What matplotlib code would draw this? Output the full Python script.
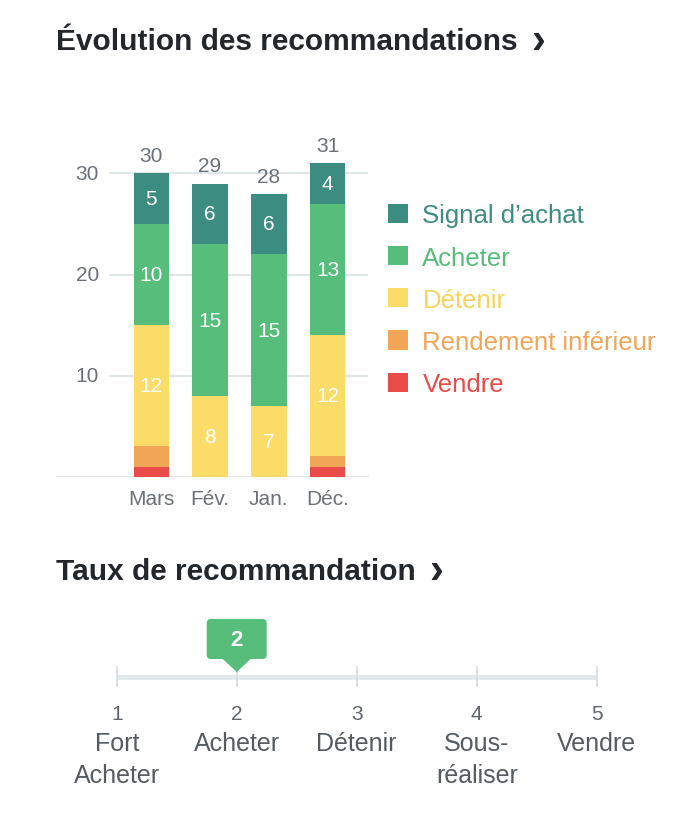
import matplotlib.pyplot as plt
import numpy as np
from matplotlib.patches import FancyBboxPatch, Polygon

plt.rcParams['font.family'] = ['Liberation Sans', 'DejaVu Sans']

# data
months = ['Mars', 'Fév.', 'Jan.', 'Déc.']
categories = ['Vendre', 'Rendement inférieur', 'Détenir', 'Acheter', 'Signal d\u2019achat']
vendre = [1, 0, 0, 1]
rendement = [2, 0, 0, 1]
detenir = [12, 8, 7, 12]
acheter = [10, 15, 15, 13]
signal = [5, 6, 6, 4]
yticks = [10, 20, 30]

scale_values = [1, 2, 3, 4, 5]
scale_labels = ['Fort\nAcheter', 'Acheter', 'Détenir', 'Sous-\nréaliser', 'Vendre']
current_rating = 2

colors = ['#e94c48', '#f2a557', '#fbdc68', '#57bd7b', '#3d8c82']
text_colors = ['#e94c48', '#f2a557', '#f6d45c', '#57bd7b', '#3d8c82']
gray = '#6b7177'
dark = '#23272b'

W, H = 688, 820
fig = plt.figure(figsize=(W / 100, H / 100), dpi=100)

# ---------------------------------------------------------------- stacked bars
ax_left, ax_right = 56, 370
ax_bottom, ax_top = 477.7, 134
ax = fig.add_axes([ax_left / W, 1 - ax_bottom / H, (ax_right - ax_left) / W, (ax_bottom - ax_top) / H])
ax.set_xlim(-1.62, 3.72)
ax.set_ylim(0, 34)

x = np.arange(len(months))
series = [vendre, rendement, detenir, acheter, signal]
bottom = np.zeros(len(months))
containers = []
for vals, c, name in zip(series, colors, categories):
    vals = np.array(vals)
    bc = ax.bar(x, vals, 0.604, bottom=bottom, color=c, label=name, linewidth=0, zorder=3)
    containers.append(bc)
    for xi, v, b in zip(x, vals, bottom):
        if v >= 3:
            ax.text(xi, b + v / 2, str(v), ha='center', va='center', color='white', fontsize=15, zorder=4)
    bottom = bottom + vals

for xi, t in zip(x, bottom):
    ax.text(xi, t + 1.74, f'{t:.0f}', ha='center', va='center', color=gray, fontsize=15)

# grid + y labels
for yv in yticks:
    ax.axhline(yv, xmin=(110 - ax_left) / (ax_right - ax_left), xmax=0.99, color='#e1e6e8', lw=1.5, zorder=1)
    ax.text((99 - ax_left) / (ax_right - ax_left), yv, str(yv), transform=ax.get_yaxis_transform(),
            ha='right', va='center', color=gray, fontsize=15)
ax.axhline(0, xmin=0, xmax=0.99, color='#dce2e5', lw=2, zorder=2)

ax.set_xticks(x)
ax.set_xticklabels(months, fontsize=15, color=gray)
ax.tick_params(axis='x', length=0, pad=8.5)
ax.set_yticks([])
for s in ax.spines.values():
    s.set_visible(False)

# legend
handles = containers[::-1]
leg = fig.legend(handles, categories[::-1], loc='upper left', bbox_to_anchor=(378 / W, 1 - 194 / H),
                 frameon=False, fontsize=18.5, handlelength=0.78, handleheight=0.78,
                 handletextpad=0.55, labelspacing=0.71, borderaxespad=0)
for t, c in zip(leg.get_texts(), text_colors[::-1]):
    t.set_color(c)

# titles
fig.text(56 / W, 1 - 42 / H, 'Évolution des recommandations', fontsize=21.5, fontweight='bold',
         color=dark, ha='left', va='center')
fig.text(538 / W, 1 - 42 / H, '\u203a', fontsize=30, fontweight='bold', color=dark,
         ha='center', va='center')
fig.text(56 / W, 1 - 572 / H, 'Taux de recommandation', fontsize=21.5, fontweight='bold',
         color=dark, ha='left', va='center')
fig.text(436 / W, 1 - 572 / H, '\u203a', fontsize=30, fontweight='bold', color=dark,
         ha='center', va='center')

# ---------------------------------------------------------------- rating scale
ax2 = fig.add_axes([0, 0, 1, 220 / H])
ax2.set_xlim(1 - 116.7 / 120, 1 + (W - 116.7) / 120)
ax2.set_ylim(820, 600)
ax2.axis('off')

ax2.plot([scale_values[0], scale_values[-1]], [677.7, 677.7], color='#e3e8ea', lw=3.6, solid_capstyle='butt', zorder=1)
for v, lab in zip(scale_values, scale_labels):
    ax2.plot([v, v], [668, 687], color='#d8dde0', lw=1.3, zorder=2)
    ax2.text(v, 715, str(v), ha='center', va='center', color='#5f656b', fontsize=15)
    ax2.text(v, 732.5, lab, ha='center', va='top', color='#555b61', fontsize=18, linespacing=1.42)

# marker
half_w = 30 / 120
box = FancyBboxPatch((current_rating - half_w, 620), 2 * half_w, 40,
                     boxstyle='round,pad=0,rounding_size=0.035', mutation_aspect=120,
                     facecolor='#57bd7b', edgecolor='none', zorder=3)
ax2.add_patch(box)
tri = Polygon([[current_rating - 15 / 120, 659], [current_rating + 15 / 120, 659], [current_rating, 673]],
              closed=True, facecolor='#57bd7b', edgecolor='none', zorder=3)
ax2.add_patch(tri)
ax2.text(current_rating, 641, str(current_rating), ha='center', va='center', color='white',
         fontsize=16, fontweight='bold', zorder=4)

plt.savefig('out.png', dpi=100)
